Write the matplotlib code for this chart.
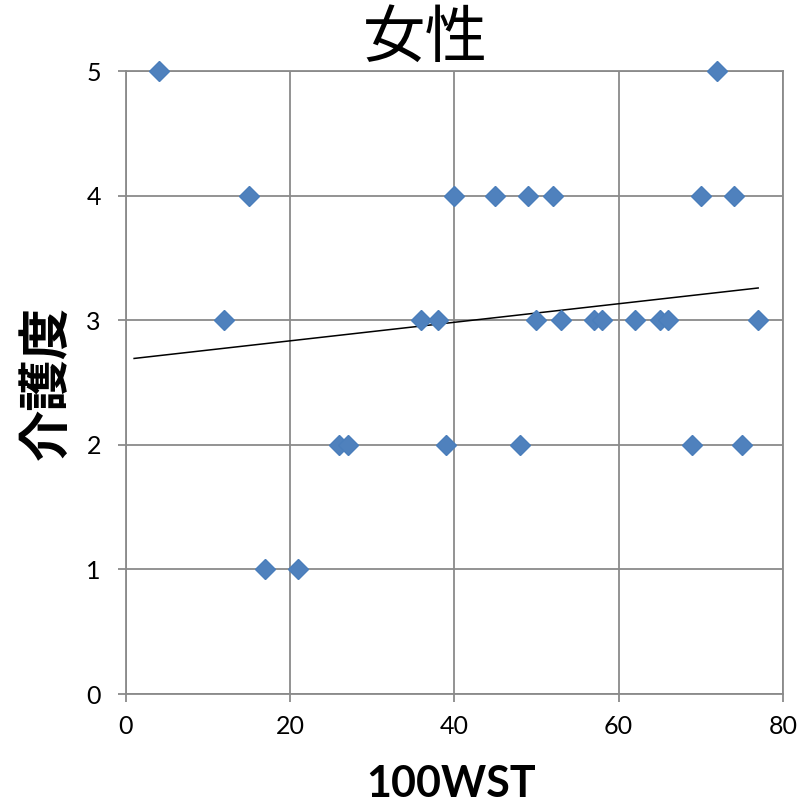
import numpy as np
import matplotlib
matplotlib.use("Agg")
import matplotlib.pyplot as plt

# 100WST score vs care level (women)
wst = np.array([4, 72,
                15, 40, 45, 49, 52, 70, 74,
                12, 36, 38, 50, 53, 57, 58, 62, 65, 66, 77,
                26, 27, 39, 48, 69, 75,
                17, 21])
care = np.array([5, 5,
                 4, 4, 4, 4, 4, 4, 4,
                 3, 3, 3, 3, 3, 3, 3, 3, 3, 3, 3,
                 2, 2, 2, 2, 2, 2,
                 1, 1])
trend_start = 1

x_ticks = [0, 20, 40, 60, 80]
y_ticks = [0, 1, 2, 3, 4, 5]

num_font = ['Lato', 'DejaVu Sans']
cjk_font = ['Noto Sans CJK JP', 'DejaVu Sans']
grid_col = '#8a8a8a'

fig = plt.figure(figsize=(8.07, 8.07), dpi=100)
ax = fig.add_axes([0.156, 0.140, 0.814, 0.772])

ax.plot(wst, care, linestyle='none', marker='D', markersize=10.5,
        color='#4f81bd', markeredgecolor='#4a7ebb', zorder=3, clip_on=False)

# least-squares trend line
slope, intercept = np.polyfit(wst, care, 1)
tx = np.array([trend_start, wst.max()])
ax.plot(tx, slope * tx + intercept, color='black', linewidth=1.1, zorder=2)

ax.set_xlim(0, 80)
ax.set_ylim(0, 5)
ax.set_xticks(x_ticks)
ax.set_yticks(y_ticks)
ax.grid(True, color=grid_col, linewidth=1.3)
ax.set_axisbelow(True)
for side in ['left', 'bottom', 'top', 'right']:
    ax.spines[side].set_color(grid_col)
    ax.spines[side].set_linewidth(1.3)
ax.tick_params(axis='both', color=grid_col, width=1.3, length=6,
               labelsize=18, direction='out')
ax.tick_params(axis='x', pad=9)
ax.tick_params(axis='y', pad=12)
for lab in ax.get_xticklabels() + ax.get_yticklabels():
    lab.set_family(num_font)

fig.text(0.527, 0.952, '女性', ha='center', va='center', fontsize=45,
         family=cjk_font)
fig.text(0.057, 0.526, '介護度', ha='center', va='center', fontsize=37,
         fontweight='bold', rotation=90, family=cjk_font)
fig.text(0.559, 0.028, '100WST', ha='center', va='center', fontsize=31,
         fontweight='bold', family=num_font)

fig.savefig('out.png', dpi=100)
